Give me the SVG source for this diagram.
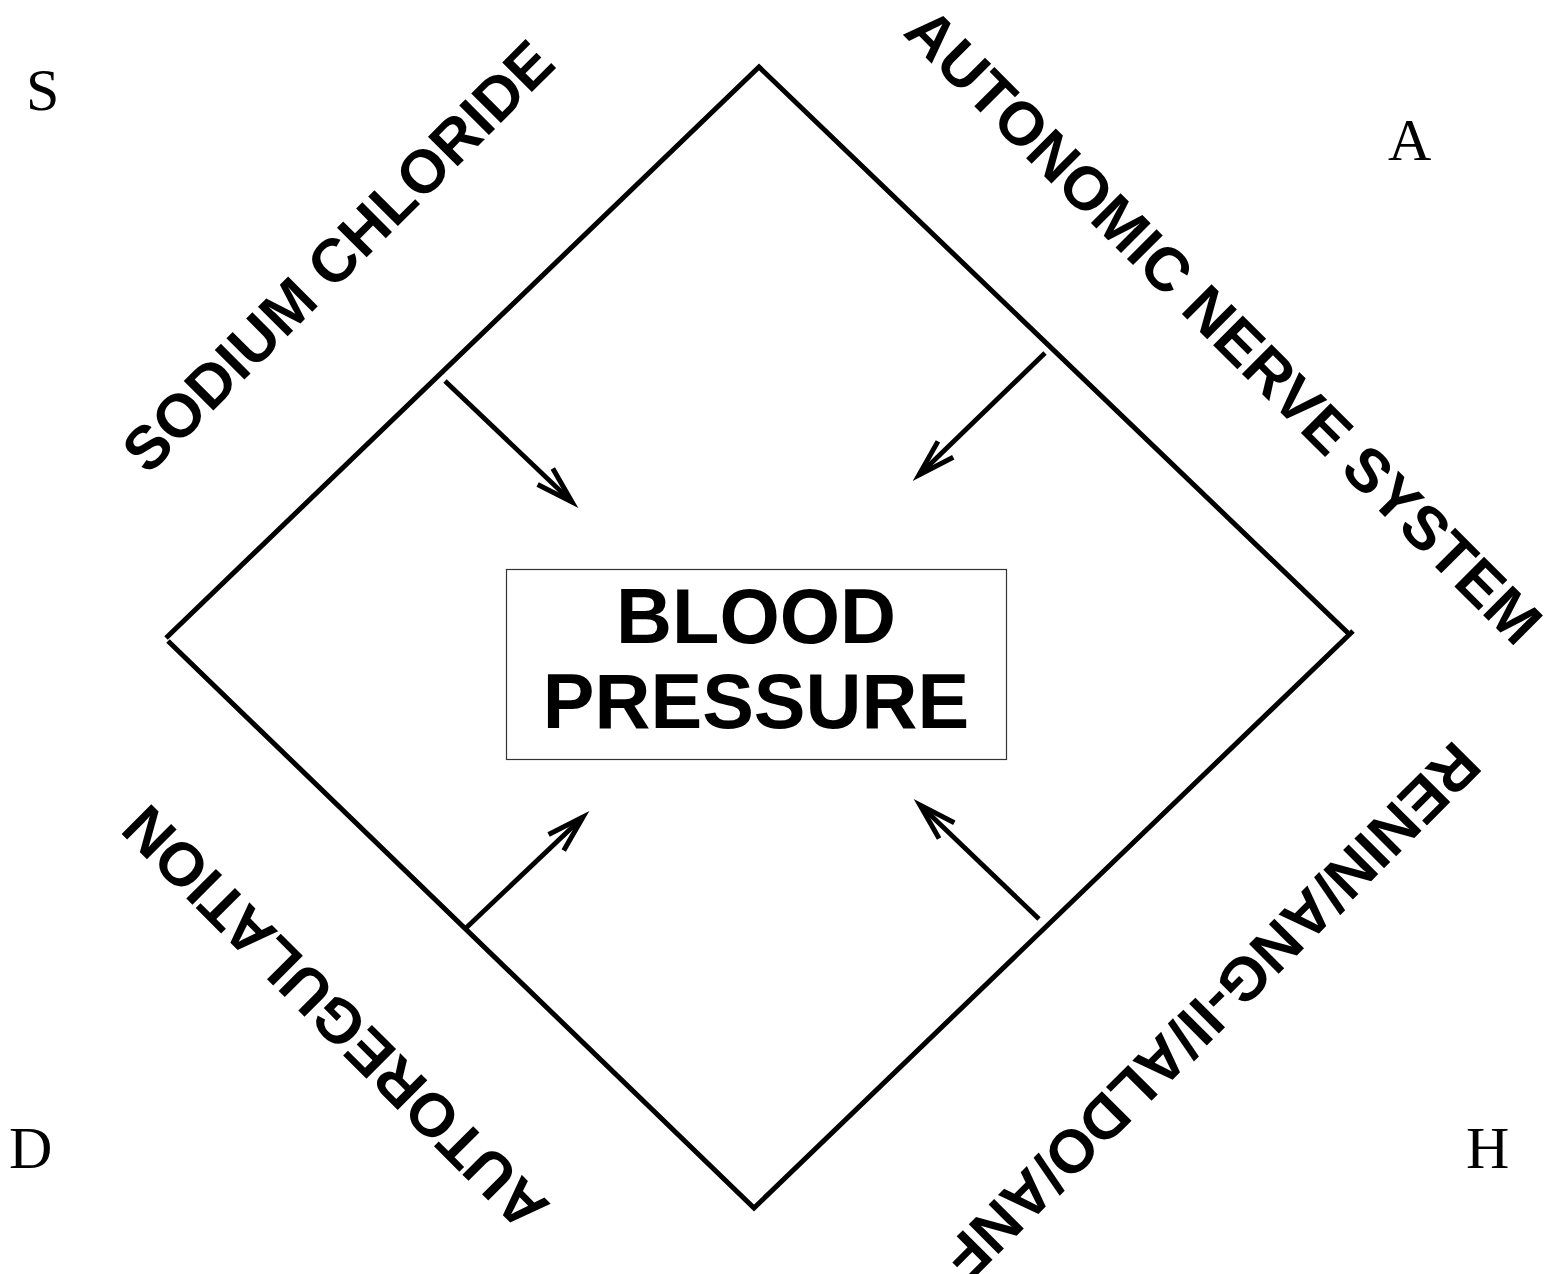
<svg xmlns="http://www.w3.org/2000/svg" width="1548" height="1274" viewBox="0 0 1548 1274">
  <style>
    .edge { fill: none; stroke: #000; stroke-width: 5; stroke-linejoin: miter; }
    .arrow { fill: none; stroke: #000; stroke-width: 4.8; marker-end: url(#head); }
    .factor { font-family: "Liberation Sans", Arial, sans-serif; font-weight: bold; font-size: 61px; fill: #000; text-anchor: middle; }
    .title { font-family: "Liberation Sans", Arial, sans-serif; font-weight: bold; font-size: 77.5px; fill: #000; text-anchor: middle; }
    .corner { font-family: "Liberation Serif", "Times New Roman", serif; font-size: 60px; fill: #000; }
  </style>
  <defs>
    <marker id="head" markerUnits="userSpaceOnUse" markerWidth="60" markerHeight="40" refX="0" refY="0" orient="auto" overflow="visible" viewBox="-50 -20 60 40">
      <path d="M -37 -11 L 0 0 L -37 11" fill="none" stroke="#000" stroke-width="5" stroke-linejoin="miter"/>
    </marker>
  </defs>
  <rect width="1548" height="1274" fill="#fff"/>

  <!-- outer diamond -->
  <g id="diamond">
    <polyline class="edge" points="166,638 759,67 1348,633"/>
    <polyline class="edge" points="168,641 754,1208 1353,631"/>
  </g>

  <!-- central node -->
  <g id="blood-pressure">
    <rect x="506.5" y="569.5" width="500" height="190" fill="#fff" stroke="#333" stroke-width="1.2"/>
    <text class="title" x="756" y="643">BLOOD</text>
    <text class="title" x="756" y="728">PRESSURE</text>
  </g>

  <!-- factor labels along the diamond sides -->
  <g id="sodium-chloride">
    <text class="factor" transform="translate(353,271) rotate(-45)">SODIUM CHLORIDE</text>
  </g>
  <g id="autonomic-nerve-system">
    <text class="factor" transform="translate(1209,341) rotate(45)">AUTONOMIC NERVE SYSTEM</text>
  </g>
  <g id="autoregulation">
    <text class="factor" transform="translate(350,1003) rotate(-135)">AUTOREGULATION</text>
  </g>
  <g id="renin-ang-aldo-anf">
    <text class="factor" transform="translate(1197,996) rotate(135)">RENIN/ANG-II/ALDO/ANF</text>
  </g>

  <!-- corner letters -->
  <g id="corner-s"><text class="corner" x="26" y="110">S</text></g>
  <g id="corner-a"><text class="corner" x="1388" y="160">A</text></g>
  <g id="corner-d"><text class="corner" x="9" y="1168">D</text></g>
  <g id="corner-h"><text class="corner" x="1466" y="1168">H</text></g>

  <!-- arrows pointing toward the centre -->
  <g id="connectors">
    <line class="arrow" x1="445" y1="381" x2="572" y2="502"/>
    <line class="arrow" x1="1045" y1="353" x2="919" y2="475"/>
    <line class="arrow" x1="466" y1="928" x2="583" y2="817"/>
    <line class="arrow" x1="1039" y1="919" x2="920" y2="805"/>
  </g>
</svg>
